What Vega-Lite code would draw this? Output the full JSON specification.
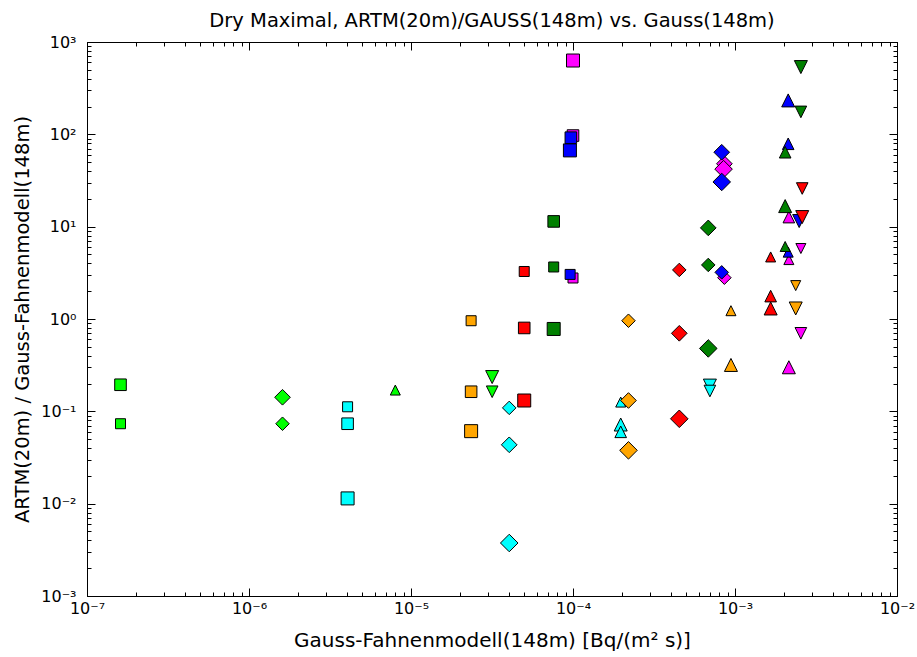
{
  "$schema": "https://vega.github.io/schema/vega-lite/v6.json",
  "width": 810,
  "height": 554,
  "autosize": {"type": "none"},
  "padding": {"left": 87, "top": 42, "right": 20, "bottom": 61},
  "background": "white",
  "title": {
    "text": "Dry Maximal, ARTM(20m)/GAUSS(148m) vs. Gauss(148m)",
    "font": "DejaVu Sans",
    "fontSize": 19.5,
    "fontWeight": "normal",
    "color": "black",
    "anchor": "middle",
    "offset": 3
  },
  "config": {
    "view": {"stroke": "black", "strokeWidth": 1},
    "axis": {
      "labelFont": "DejaVu Sans",
      "titleFont": "DejaVu Sans",
      "labelColor": "black",
      "titleColor": "black",
      "tickColor": "black",
      "domainColor": "black",
      "grid": false,
      "labelOverlap": false,
      "labelFlush": false,
      "labelBound": false,
      "titleFontWeight": "normal"
    }
  },
  "data": {
    "values": [
      {"x": 1.61e-7, "y": 0.194, "c": "lime", "s": "square", "z": "M"},
      {"x": 1.61e-7, "y": 0.0734, "c": "lime", "s": "square", "z": "S"},
      {"x": 1.61e-6, "y": 0.142, "c": "lime", "s": "diamond", "z": "M"},
      {"x": 1.61e-6, "y": 0.0734, "c": "lime", "s": "diamond", "z": "S"},
      {"x": 8.0e-6, "y": 0.17, "c": "lime", "s": "up", "z": "S"},
      {"x": 3.17e-5, "y": 0.235, "c": "lime", "s": "down", "z": "L"},
      {"x": 3.17e-5, "y": 0.163, "c": "lime", "s": "down", "z": "M"},
      {"x": 4.06e-6, "y": 0.112, "c": "cyan", "s": "square", "z": "S"},
      {"x": 4.06e-6, "y": 0.0734, "c": "cyan", "s": "square", "z": "M"},
      {"x": 4.06e-6, "y": 0.0114, "c": "cyan", "s": "square", "z": "L"},
      {"x": 4.04e-5, "y": 0.109, "c": "cyan", "s": "diamond", "z": "S"},
      {"x": 4.04e-5, "y": 0.0434, "c": "cyan", "s": "diamond", "z": "M"},
      {"x": 4.04e-5, "y": 0.00375, "c": "cyan", "s": "diamond", "z": "L"},
      {"x": 1.97e-4, "y": 0.126, "c": "cyan", "s": "up", "z": "S"},
      {"x": 1.97e-4, "y": 0.072, "c": "cyan", "s": "up", "z": "L"},
      {"x": 1.97e-4, "y": 0.060, "c": "cyan", "s": "up", "z": "M"},
      {"x": 7.0e-4, "y": 0.19, "c": "cyan", "s": "down", "z": "L"},
      {"x": 7.0e-4, "y": 0.166, "c": "cyan", "s": "down", "z": "M"},
      {"x": 2.35e-5, "y": 0.958, "c": "orange", "s": "square", "z": "S"},
      {"x": 2.35e-5, "y": 0.163, "c": "orange", "s": "square", "z": "M"},
      {"x": 2.35e-5, "y": 0.061, "c": "orange", "s": "square", "z": "L"},
      {"x": 2.2e-4, "y": 0.958, "c": "orange", "s": "diamond", "z": "S"},
      {"x": 2.2e-4, "y": 0.131, "c": "orange", "s": "diamond", "z": "M"},
      {"x": 2.2e-4, "y": 0.0378, "c": "orange", "s": "diamond", "z": "L"},
      {"x": 9.44e-4, "y": 1.23, "c": "orange", "s": "up", "z": "S"},
      {"x": 9.44e-4, "y": 0.318, "c": "orange", "s": "up", "z": "L"},
      {"x": 2.37e-3, "y": 2.3, "c": "orange", "s": "down", "z": "S"},
      {"x": 2.37e-3, "y": 1.3, "c": "orange", "s": "down", "z": "L"},
      {"x": 1.0e-4, "y": 630, "c": "magenta", "s": "square", "z": "L"},
      {"x": 1.0e-4, "y": 97, "c": "magenta", "s": "square", "z": "M"},
      {"x": 1.0e-4, "y": 2.78, "c": "magenta", "s": "square", "z": "S"},
      {"x": 8.6e-4, "y": 48, "c": "magenta", "s": "diamond", "z": "M"},
      {"x": 8.5e-4, "y": 42, "c": "magenta", "s": "diamond", "z": "L"},
      {"x": 8.6e-4, "y": 2.8, "c": "magenta", "s": "diamond", "z": "S"},
      {"x": 2.15e-3, "y": 12.7, "c": "magenta", "s": "up", "z": "M"},
      {"x": 2.15e-3, "y": 4.4, "c": "magenta", "s": "up", "z": "S"},
      {"x": 2.15e-3, "y": 0.30, "c": "magenta", "s": "up", "z": "L"},
      {"x": 2.55e-3, "y": 5.8, "c": "magenta", "s": "down", "z": "S"},
      {"x": 2.55e-3, "y": 0.70, "c": "magenta", "s": "down", "z": "M"},
      {"x": 9.7e-5, "y": 92, "c": "blue", "s": "square", "z": "M"},
      {"x": 9.57e-5, "y": 67, "c": "blue", "s": "square", "z": "L"},
      {"x": 9.6e-5, "y": 3.04, "c": "blue", "s": "square", "z": "S"},
      {"x": 8.28e-4, "y": 64, "c": "blue", "s": "diamond", "z": "M"},
      {"x": 8.28e-4, "y": 30.5, "c": "blue", "s": "diamond", "z": "L"},
      {"x": 8.28e-4, "y": 3.2, "c": "blue", "s": "diamond", "z": "S"},
      {"x": 2.13e-3, "y": 233, "c": "blue", "s": "up", "z": "L"},
      {"x": 2.13e-3, "y": 79, "c": "blue", "s": "up", "z": "M"},
      {"x": 2.13e-3, "y": 5.3, "c": "blue", "s": "up", "z": "S"},
      {"x": 2.49e-3, "y": 11.5, "c": "blue", "s": "down", "z": "L"},
      {"x": 7.6e-5, "y": 11.4, "c": "green", "s": "square", "z": "M"},
      {"x": 7.6e-5, "y": 3.66, "c": "green", "s": "square", "z": "S"},
      {"x": 7.6e-5, "y": 0.78, "c": "green", "s": "square", "z": "L"},
      {"x": 6.84e-4, "y": 9.7, "c": "green", "s": "diamond", "z": "M"},
      {"x": 6.84e-4, "y": 3.85, "c": "green", "s": "diamond", "z": "S"},
      {"x": 6.84e-4, "y": 0.48, "c": "green", "s": "diamond", "z": "L"},
      {"x": 2.04e-3, "y": 64, "c": "green", "s": "up", "z": "M"},
      {"x": 2.04e-3, "y": 16.7, "c": "green", "s": "up", "z": "L"},
      {"x": 2.04e-3, "y": 6.1, "c": "green", "s": "up", "z": "S"},
      {"x": 2.55e-3, "y": 535, "c": "green", "s": "down", "z": "L"},
      {"x": 2.55e-3, "y": 175, "c": "green", "s": "down", "z": "M"},
      {"x": 5.0e-5, "y": 3.27, "c": "red", "s": "square", "z": "S"},
      {"x": 5.0e-5, "y": 0.80, "c": "red", "s": "square", "z": "M"},
      {"x": 5.0e-5, "y": 0.131, "c": "red", "s": "square", "z": "L"},
      {"x": 4.53e-4, "y": 3.4, "c": "red", "s": "diamond", "z": "S"},
      {"x": 4.53e-4, "y": 0.70, "c": "red", "s": "diamond", "z": "M"},
      {"x": 4.53e-4, "y": 0.083, "c": "red", "s": "diamond", "z": "L"},
      {"x": 1.66e-3, "y": 4.7, "c": "red", "s": "up", "z": "S"},
      {"x": 1.66e-3, "y": 1.77, "c": "red", "s": "up", "z": "M"},
      {"x": 1.66e-3, "y": 1.3, "c": "red", "s": "up", "z": "L"},
      {"x": 2.6e-3, "y": 25.9, "c": "red", "s": "down", "z": "M"},
      {"x": 2.6e-3, "y": 12.7, "c": "red", "s": "down", "z": "L"}
    ]
  },
  "resolve": {"axis": {"x": "independent", "y": "independent"}},
  "layer": [
    {
      "mark": {"type": "point", "filled": true, "opacity": 1, "stroke": "black", "strokeWidth": 1},
      "encoding": {
        "x": {
          "field": "x", "type": "quantitative",
          "scale": {"type": "log", "domain": [1e-7, 1e-2], "nice": false},
          "axis": {
            "orient": "bottom",
            "values": [1e-7,2e-7,3e-7,4e-7,5e-7,6e-7,7e-7,8e-7,9e-7,1e-6,2e-6,3e-6,4e-6,5e-6,6e-6,7e-6,8e-6,9e-6,1e-5,2e-5,3e-5,4e-5,5e-5,6e-5,7e-5,8e-5,9e-5,1e-4,2e-4,3e-4,4e-4,5e-4,6e-4,7e-4,8e-4,9e-4,1e-3,2e-3,3e-3,4e-3,5e-3,6e-3,7e-3,8e-3,9e-3,1e-2],
            "labelExpr": "abs(log(datum.value)/LN10 - round(log(datum.value)/LN10)) > 0.01 ? '' : ['10⁻⁷','10⁻⁶','10⁻⁵','10⁻⁴','10⁻³','10⁻²','10⁻¹','10⁰','10¹','10²','10³'][round(log(datum.value)/LN10)+7]",
            "tickSize": {"condition": {"test": "abs(log(datum.value)/LN10 - round(log(datum.value)/LN10)) < 0.01", "value": -8}, "value": -4},
            "labelFontSize": 16,
            "labelPadding": 12,
            "title": "Gauss-Fahnenmodell(148m) [Bq/(m² s)]",
            "titleFontSize": 20,
            "titlePadding": 10
          }
        },
        "y": {
          "field": "y", "type": "quantitative",
          "scale": {"type": "log", "domain": [1e-3, 1e3], "nice": false},
          "axis": {
            "orient": "left",
            "values": [1e-3,2e-3,3e-3,4e-3,5e-3,6e-3,7e-3,8e-3,9e-3,1e-2,2e-2,3e-2,4e-2,5e-2,6e-2,7e-2,8e-2,9e-2,1e-1,2e-1,3e-1,4e-1,5e-1,6e-1,7e-1,8e-1,9e-1,1,2,3,4,5,6,7,8,9,10,20,30,40,50,60,70,80,90,100,200,300,400,500,600,700,800,900,1000],
            "labelExpr": "abs(log(datum.value)/LN10 - round(log(datum.value)/LN10)) > 0.01 ? '' : ['10⁻⁷','10⁻⁶','10⁻⁵','10⁻⁴','10⁻³','10⁻²','10⁻¹','10⁰','10¹','10²','10³'][round(log(datum.value)/LN10)+7]",
            "tickSize": {"condition": {"test": "abs(log(datum.value)/LN10 - round(log(datum.value)/LN10)) < 0.01", "value": -8}, "value": -4},
            "labelFontSize": 16,
            "labelPadding": 19,
            "title": "ARTM(20m) / Gauss-Fahnenmodell(148m)",
            "titleFontSize": 19.5,
            "titlePadding": 8
          }
        },
        "color": {
          "field": "c", "type": "nominal",
          "scale": {"domain": ["lime","cyan","orange","magenta","blue","green","red"], "range": ["#00ff00","#00ffff","#ffa500","#ff00ff","#0000ff","#008000","#ff0000"]},
          "legend": null
        },
        "shape": {
          "field": "s", "type": "nominal",
          "scale": {"domain": ["square","diamond","up","down"], "range": ["square","M0,-1.35L1.35,0L0,1.35L-1.35,0Z","M0,-1L1,1L-1,1Z","M0,1L1,-1L-1,-1Z"]},
          "legend": null
        },
        "size": {
          "field": "z", "type": "ordinal",
          "scale": {"domain": ["S","M","L"], "range": [100, 169, 289]},
          "legend": null
        }
      }
    },
    {
      "mark": {"type": "point", "opacity": 0},
      "encoding": {
        "x": {
          "field": "x", "type": "quantitative",
          "scale": {"type": "log", "domain": [1e-7, 1e-2], "nice": false},
          "axis": {
            "orient": "top",
            "values": [1e-7,2e-7,3e-7,4e-7,5e-7,6e-7,7e-7,8e-7,9e-7,1e-6,2e-6,3e-6,4e-6,5e-6,6e-6,7e-6,8e-6,9e-6,1e-5,2e-5,3e-5,4e-5,5e-5,6e-5,7e-5,8e-5,9e-5,1e-4,2e-4,3e-4,4e-4,5e-4,6e-4,7e-4,8e-4,9e-4,1e-3,2e-3,3e-3,4e-3,5e-3,6e-3,7e-3,8e-3,9e-3,1e-2],
            "labels": false,
            "title": null,
            "tickSize": {"condition": {"test": "abs(log(datum.value)/LN10 - round(log(datum.value)/LN10)) < 0.01", "value": -8}, "value": -4}
          }
        },
        "y": {
          "field": "y", "type": "quantitative",
          "scale": {"type": "log", "domain": [1e-3, 1e3], "nice": false},
          "axis": {
            "orient": "right",
            "values": [1e-3,2e-3,3e-3,4e-3,5e-3,6e-3,7e-3,8e-3,9e-3,1e-2,2e-2,3e-2,4e-2,5e-2,6e-2,7e-2,8e-2,9e-2,1e-1,2e-1,3e-1,4e-1,5e-1,6e-1,7e-1,8e-1,9e-1,1,2,3,4,5,6,7,8,9,10,20,30,40,50,60,70,80,90,100,200,300,400,500,600,700,800,900,1000],
            "labels": false,
            "title": null,
            "tickSize": {"condition": {"test": "abs(log(datum.value)/LN10 - round(log(datum.value)/LN10)) < 0.01", "value": -8}, "value": -4}
          }
        }
      }
    }
  ]
}
